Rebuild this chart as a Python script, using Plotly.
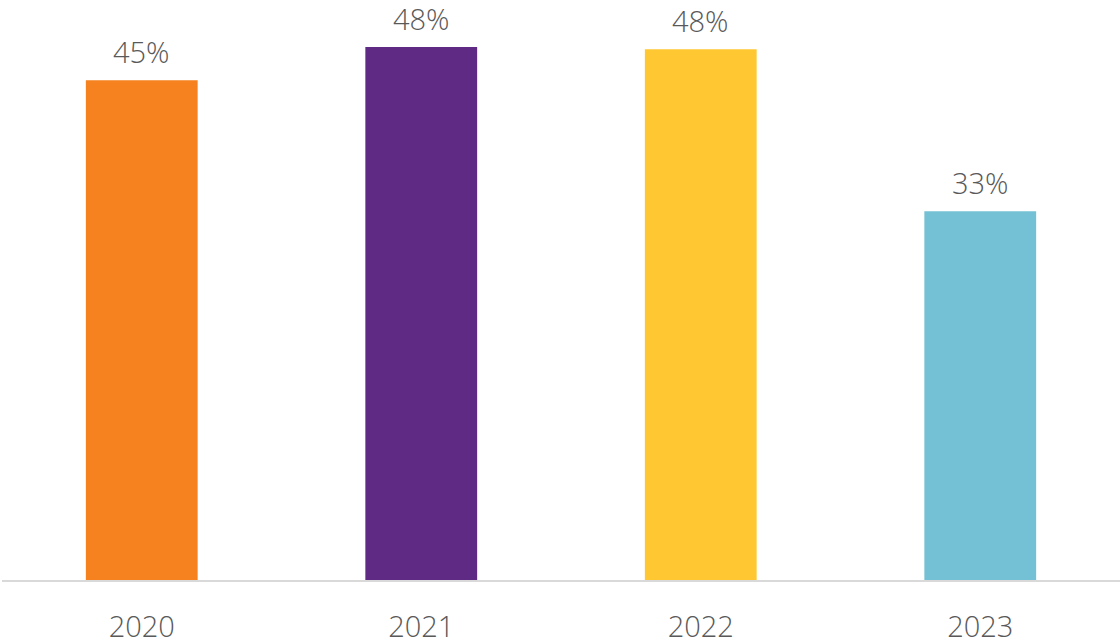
import plotly.graph_objects as go

years = ["2020", "2021", "2022", "2023"]
values = [45.0, 48.0, 47.8, 33.2]
labels = ["45%", "48%", "48%", "33%"]
colors = ["#F5821F", "#5E2A84", "#FFC832", "#74C0D4"]

FONT = dict(family="Open Sans", size=29, color="#595959", weight=300)

fig = go.Figure()
fig.add_trace(go.Bar(
    x=years, y=values, marker_color=colors, marker_line_width=0,
    hoverinfo="skip",
))
for i, (v, lab) in enumerate(zip(values, labels)):
    fig.add_annotation(x=i, y=v, xref="x", yref="y", text=lab, showarrow=False,
                       yanchor="bottom", yshift=7, font=FONT)

fig.update_layout(
    width=1120, height=644,
    margin=dict(l=2, r=0, t=0, b=64),
    plot_bgcolor="white", paper_bgcolor="white",
    bargap=0.6, showlegend=False,
    font=FONT,
)
fig.update_xaxes(type="category", range=[-0.5, len(years) - 0.5], automargin=False,
                 showline=True, linecolor="#d9d9d9", linewidth=2, showgrid=False,
                 ticks="", ticklabelstandoff=20, tickfont=FONT)
fig.update_yaxes(range=[0, 52.23], visible=False, showgrid=False, zeroline=False,
                 automargin=False)
fig.write_html("out.html", config={"displayModeBar": False},
               post_script="document.body.style.margin='0';")
